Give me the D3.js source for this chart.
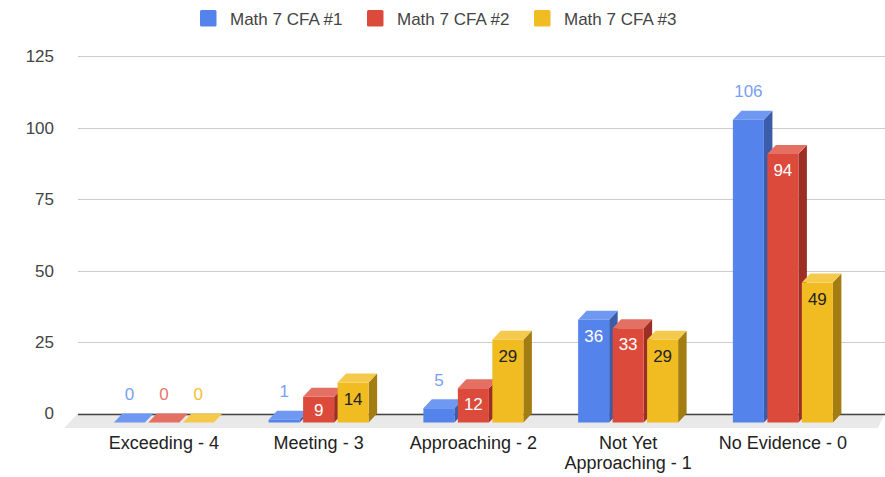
<!DOCTYPE html>
<html>
<head>
<meta charset="utf-8">
<script src="https://cdn.jsdelivr.net/npm/d3@7"></script>
<style>
  body { margin: 0; background: #fff; }
  svg { display: block; font-family: "Liberation Sans", Arial, sans-serif; }
</style>
</head>
<body>
<svg id="chart" width="885" height="477"></svg>
<script>
// data
const categories = ["Exceeding - 4", "Meeting - 3", "Approaching - 2", "Not Yet Approaching - 1", "No Evidence - 0"];
const seriesNames = ["Math 7 CFA #1", "Math 7 CFA #2", "Math 7 CFA #3"];
const cfa1 = [0, 1, 5, 36, 106];
const cfa2 = [0, 9, 12, 33, 94];
const cfa3 = [0, 14, 29, 29, 49];
const yTicks = [0, 25, 50, 75, 100, 125];

const allValues = [cfa1, cfa2, cfa3];

// colours: front, top, side, outside label, inside label
const colors = [
  {front: "#5583ec", top: "#6e98f1", side: "#3b5ca9", out: "#78a1f3", inn: "#ffffff"},
  {front: "#dc4a3b", top: "#e46f63", side: "#9c2e25", out: "#e8776b", inn: "#ffffff"},
  {front: "#f0bc22", top: "#f5ca4c", side: "#a37c12", out: "#f3c22e", inn: "#222222"}
];

const svg = d3.select("#chart");

// depth of the 3D effect (back plane is up-right of the front plane)
const dx = 8.5, dy = 9;
const plotLeft = 78, plotRight = 885;

// y scale maps to back plane
const y = d3.scaleLinear().domain([0, 125]).range([413.5, 56.4]);

// x band scale for the front faces
const x = d3.scaleBand().domain(categories).range([86.5, 860.25]);
const xSub = d3.scaleBand().domain(seriesNames).range([-50, 50]).paddingInner(0.1);

// floor
svg.append("polygon")
  .attr("points", [[plotLeft, y(0)], [plotRight, y(0)], [878, y(0) + 14.5], [64, y(0) + 14.5]].join(" "))
  .attr("fill", "#e9e9e9");

// gridlines
svg.append("g")
  .selectAll("line")
  .data(yTicks.filter(d => d > 0))
  .join("line")
  .attr("x1", plotLeft).attr("x2", plotRight)
  .attr("y1", d => Math.round(y(d)) + 0.5).attr("y2", d => Math.round(y(d)) + 0.5)
  .attr("stroke", "#cccccc");

// zero line
svg.append("line")
  .attr("x1", plotLeft).attr("x2", plotRight)
  .attr("y1", Math.round(y(0)) + 0.5).attr("y2", Math.round(y(0)) + 0.5)
  .attr("stroke", "#444").attr("stroke-width", 1.3);

// y axis labels
const yAxis = d3.axisLeft(y).tickValues(yTicks).tickSize(0).tickPadding(0);
svg.append("g")
  .attr("transform", "translate(54,0)")
  .call(yAxis)
  .call(g => g.select(".domain").remove())
  .selectAll("text")
  .attr("font-size", "17px")
  .attr("font-family", "'Liberation Sans', Arial, sans-serif")
  .attr("fill", "#444");

// bars
const bars = svg.append("g");
categories.forEach(function (cat, ci) {
  seriesNames.forEach(function (s, si) {
    const v = allValues[si][ci];
    const c = colors[si];
    const x0 = x(cat) + x.bandwidth() / 2 + xSub(s);
    const w = xSub.bandwidth();
    const yb = y(v), yb0 = y(0);
    const yf = yb + dy, yf0 = yb0 + dy;

    // side face
    if (v > 0) {
      bars.append("polygon")
        .attr("points", [[x0 + w, yf], [x0 + w + dx, yb], [x0 + w + dx, yb0], [x0 + w, yf0]].join(" "))
        .attr("fill", c.side);
      bars.append("rect")
        .attr("x", x0).attr("y", yf)
        .attr("width", w).attr("height", yf0 - yf)
        .attr("fill", c.front);
    }
    // top face
    bars.append("polygon")
      .attr("points", [[x0, yf], [x0 + w, yf], [x0 + w + dx, yb], [x0 + dx, yb]].join(" "))
      .attr("fill", c.top);

    // data label: inside the bar when it fits, else above it
    const label = bars.append("text")
      .attr("x", x0 + w / 2)
      .attr("text-anchor", "middle")
      .attr("font-size", "17px")
      .text(v);
    const tw = label.node().getComputedTextLength();
    const inside = (yf0 - yf) > 20 && tw < w - 4;
    label
      .attr("y", inside ? Math.min(yb + 31, yf0 - 7) : yb - 13.5)
      .attr("fill", inside ? c.inn : c.out);
  });
});

// x axis labels
const xLabels = svg.append("g");
const wrapped = {"Not Yet Approaching - 1": ["Not Yet", "Approaching - 1"]};
categories.forEach(function (cat) {
  const lines = wrapped[cat] || [cat];
  const t = xLabels.append("text")
    .attr("x", x(cat) + x.bandwidth() / 2)
    .attr("y", 449)
    .attr("text-anchor", "middle")
    .attr("font-size", "18px")
    .attr("fill", "#222");
  lines.forEach(function (l, i) {
    t.append("tspan")
      .attr("x", x(cat) + x.bandwidth() / 2)
      .attr("dy", i === 0 ? 0 : 19.5)
      .text(l);
  });
});

// legend
const legendX = [200, 367, 534];
const legend = svg.append("g");
seriesNames.forEach(function (s, i) {
  legend.append("rect")
    .attr("x", legendX[i]).attr("y", 10)
    .attr("width", 16.5).attr("height", 16.5)
    .attr("rx", 1.5)
    .attr("fill", colors[i].front);
  legend.append("text")
    .attr("x", legendX[i] + 30)
    .attr("y", 24.5)
    .attr("font-size", "17px")
    .attr("fill", "#444")
    .text(s);
});
</script>
</body>
</html>
